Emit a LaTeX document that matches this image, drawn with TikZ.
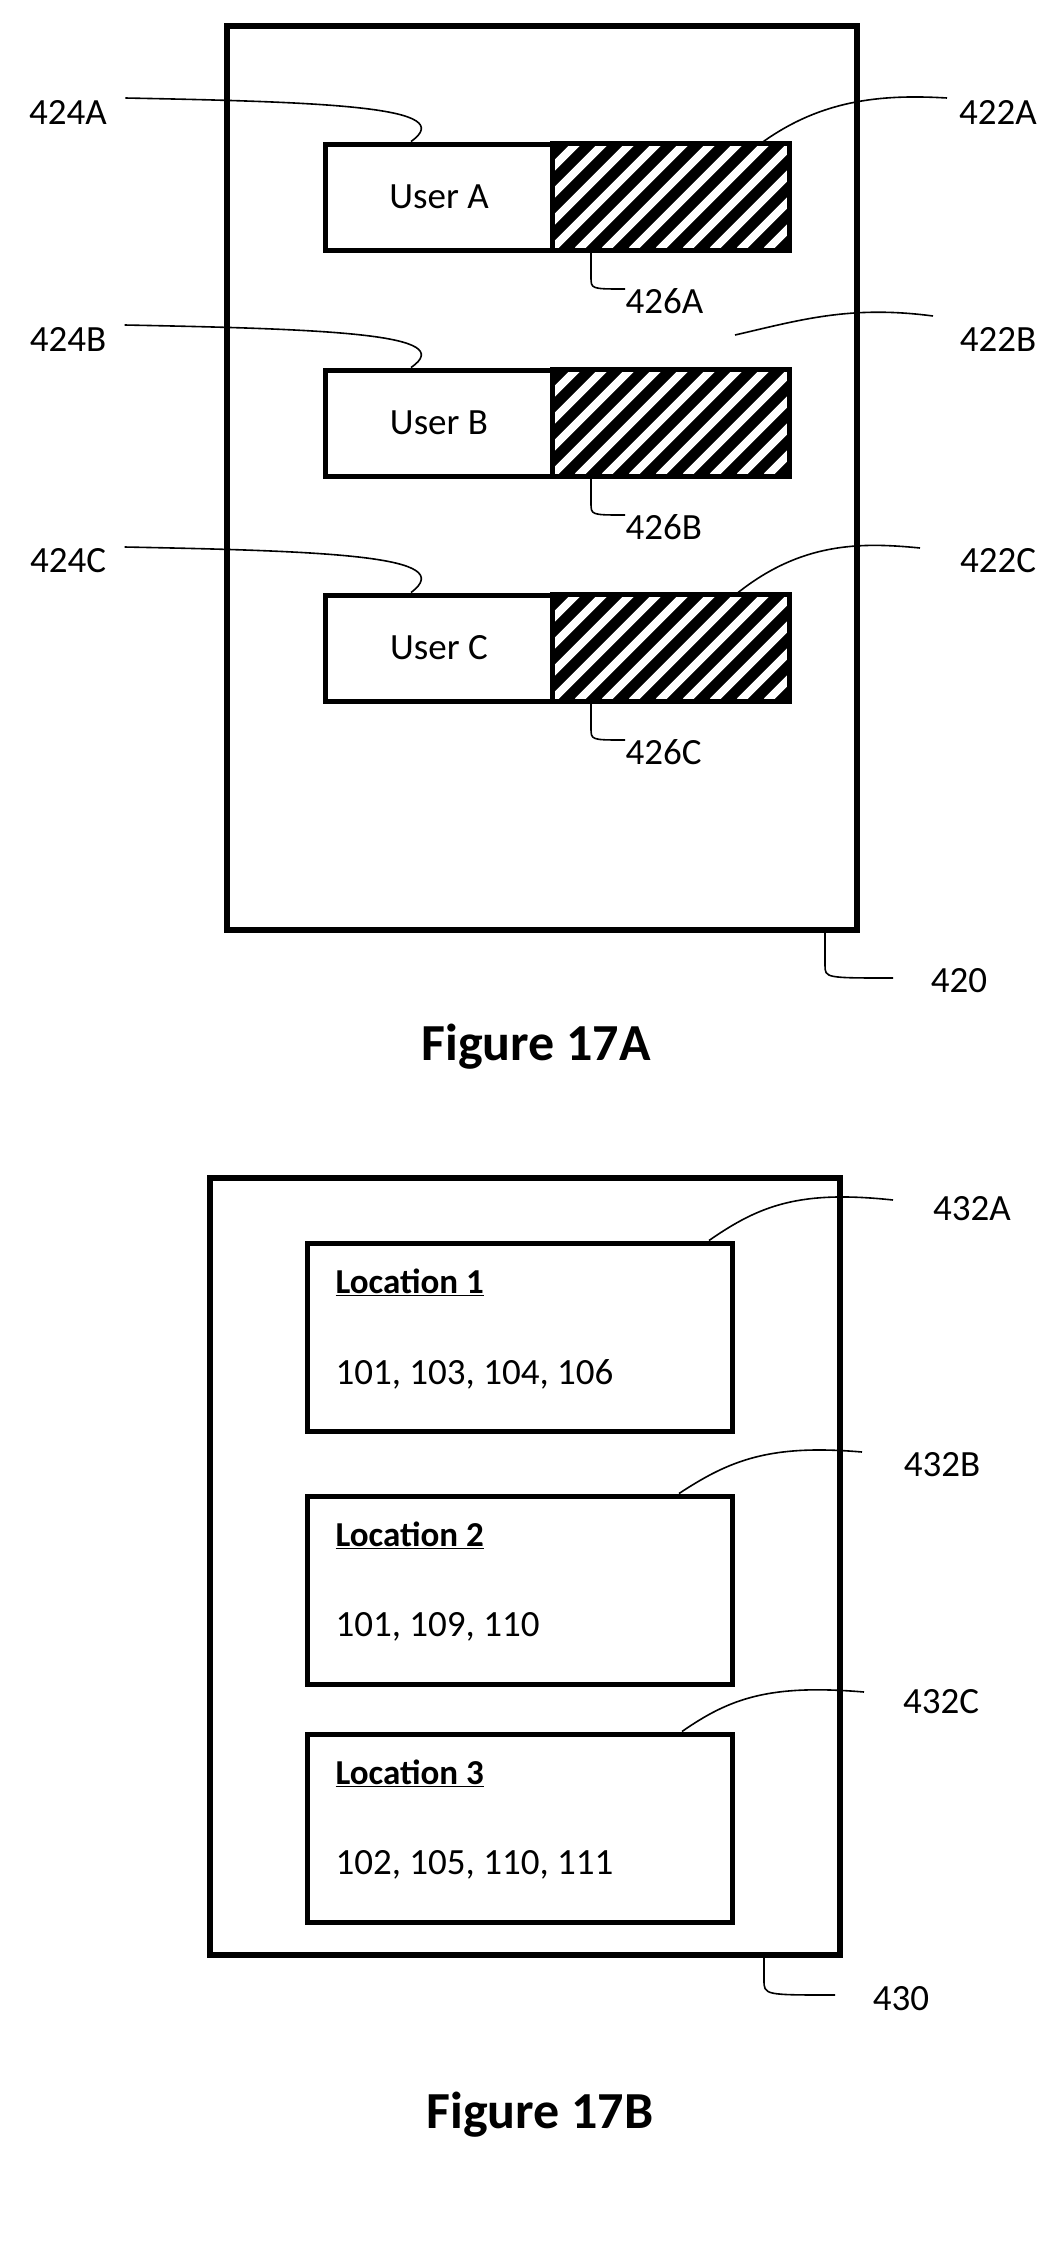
\documentclass[tikz,border=0pt]{standalone}
\usepackage{fontspec}
\setmainfont{Carlito}
\usetikzlibrary{calc}
\begin{document}
\begin{tikzpicture}[x=1pt,y=-1pt,
    frame/.style={draw, line width=6pt},
    inbox/.style={draw, line width=5pt},
    lead/.style={line width=1.6pt},
    lbl/.style={font=\fontsize{37}{40}\selectfont},
    figcap/.style={font=\fontsize{52}{56}\selectfont\bfseries}
  ]
  \useasboundingbox (0,0) rectangle (1059,2263);
  % Figure 17A
  \node[frame, minimum width=630pt, minimum height=904pt, inner sep=0pt] (sc420) at (542,478) {};
  \foreach \r/\y/\ly in {A/197/112, B/423/339, C/648/561}{
    \node[inbox, fill=white, minimum width=228pt, minimum height=106pt, inner sep=0pt, lbl] (user\r) at (439,\y) {User \r};
    \node[minimum width=236pt, minimum height=106pt, inner sep=0pt] (bar\r) at (671,\y) {};
    \begin{scope}
      \clip (bar\r.south west) rectangle (bar\r.north east);
      \fill (bar\r.south west) rectangle (bar\r.north east);
      \foreach \i in {0,...,14}
        \draw[white, line width=8pt] ($(bar\r.south west)+(\i*27-110,0)$) -- ++(130,-130);
    \end{scope}
    \draw[line width=5pt] (bar\r.south west) rectangle (bar\r.north east);
    \node[lbl] (l424\r) at (68,\ly) {424\r};
    \node[lbl] (l422\r) at (998,\ly) {422\r};
    \node[lbl, anchor=west] (l426\r) at (622,\y+104) {426\r};
    \draw[lead] ($(l424\r.east)+(15,-14)$) .. controls (330,\ly-10) and (460,\ly-5) .. (user\r.north east -| 411,0);
    \draw[lead] (bar\r.south west -| 591,0) -- (591,\y+80) .. controls (591,\y+92) .. (625,\y+92);
  }
  \draw[lead] (947,98) .. controls (880,94) and (820,100) .. (760,144);
  \draw[lead] (933,316) .. controls (850,305) and (800,320) .. (735,335);
  \draw[lead] (920,548) .. controls (860,542) and (800,542) .. (735,595);
  \node[lbl] (l420) at (959,981) {420};
  \draw[lead] (sc420.south east -| 825,0) -- (825,965) .. controls (825,978) .. (893,978);
  \node[figcap] (fig17a) at (536,1047) {Figure 17A};
  % Figure 17B
  \node[frame, minimum width=630pt, minimum height=777pt, inner sep=0pt] (sc430) at (525,1566) {};
  \foreach \n/\y/\nums in {1/1337/{101, 103, 104, 106}, 2/1590/{101, 109, 110}, 3/1828/{102, 105, 110, 111}}{
    \node[inbox, minimum width=425pt, minimum height=188pt, inner sep=0pt] (loc\n) at (520,\y) {};
    \node[lbl, anchor=west, font=\fontsize{35}{40}\selectfont\bfseries] (ttl\n) at (332,\y-55) {\underline{Location \n}};
    \node[lbl, anchor=west] (num\n) at (332,\y+37) {\nums};
  }
  \node[lbl] (l432A) at (972,1209) {432A};
  \node[lbl] (l432B) at (942,1465) {432B};
  \node[lbl] (l432C) at (941,1702) {432C};
  \coordinate (e432A) at (893,1200);
  \coordinate (e432B) at (862,1452);
  \coordinate (e432C) at (864,1692);
  \draw[lead] (e432A) .. controls (800,1190) and (760,1205) .. (loc1.north -| 709,0);
  \draw[lead] (e432B) .. controls (770,1444) and (730,1460) .. (loc2.north -| 679,0);
  \draw[lead] (e432C) .. controls (770,1684) and (730,1698) .. (loc3.north -| 682,0);
  \node[lbl] (l430) at (901,1999) {430};
  \draw[lead] (sc430.south east -| 764,0) -- (764,1980) .. controls (764,1995) .. (835,1995);
  \node[figcap] (fig17b) at (540,2115) {Figure 17B};
\end{tikzpicture}
\end{document}
